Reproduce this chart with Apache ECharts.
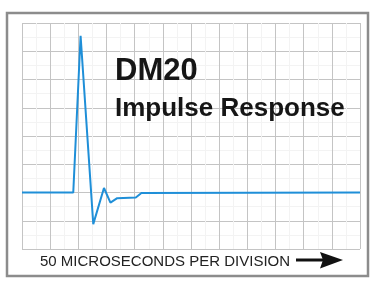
<!DOCTYPE html>
<html>
<head>
<meta charset="utf-8">
<script src="https://cdn.jsdelivr.net/npm/echarts@6/dist/echarts.min.js"></script>
<style>
html,body{margin:0;padding:0;background:#fff;}
#chart{width:372px;height:283px;}
</style>
</head>
<body>
<div id="chart"></div>
<script>
// impulse trace, x in divisions (50 us each), y in vertical divisions
var timeDiv = [0, 1.82, 2.08, 2.53, 2.91, 3.14, 3.38, 4.04, 4.24, 12];
var response = [2, 2, 7.55, 0.88, 2.16, 1.64, 1.8, 1.82, 1.98, 2];
var titleText = 'DM20';
var subText = 'Impulse Response';
var xLabel = '50 MICROSECONDS PER DIVISION';

var font = '"Liberation Sans", Arial, Helvetica, sans-serif';
var points = [];
for (var i = 0; i < timeDiv.length; i++) points.push([timeDiv[i], response[i]]);

var myChart = echarts.init(document.getElementById('chart'));
myChart.setOption({
    animation: false,
    backgroundColor: '#fff',
    grid: {left: 22, top: 23, right: 12, bottom: 34},
    xAxis: {
        type: 'value', min: 0, max: 12, interval: 1,
        axisLine: {show: false}, axisTick: {show: false}, axisLabel: {show: false},
        splitLine: {show: true, lineStyle: {color: '#c4c4c4', width: 1}},
        minorTick: {show: false, splitNumber: 2},
        minorSplitLine: {show: true, lineStyle: {color: '#f3f3f3', width: 1}}
    },
    yAxis: {
        type: 'value', min: 0, max: 8, interval: 1,
        axisLine: {show: false}, axisTick: {show: false}, axisLabel: {show: false},
        splitLine: {show: true, lineStyle: {color: '#c4c4c4', width: 1}},
        minorTick: {show: false, splitNumber: 2},
        minorSplitLine: {show: true, lineStyle: {color: '#f3f3f3', width: 1}}
    },
    title: [{
        text: titleText, left: 115, top: 56, padding: 0,
        textStyle: {fontFamily: font, fontSize: 31, fontWeight: 'bold', color: '#161616'}
    }, {
        text: subText, left: 115, top: 96, padding: 0,
        textStyle: {fontFamily: font, fontSize: 26, fontWeight: 'bold', color: '#161616'}
    }, {
        text: xLabel, left: 40, top: 254, padding: 0,
        textStyle: {fontFamily: font, fontSize: 15, fontWeight: 'normal', color: '#222'}
    }],
    graphic: [{
        type: 'rect', silent: true,
        shape: {x: 7, y: 13, width: 361, height: 263},
        style: {fill: null, stroke: '#8c8c8c', lineWidth: 2.5}
    }, {
        type: 'line', silent: true,
        shape: {x1: 296, y1: 260, x2: 324, y2: 260},
        style: {stroke: '#111', lineWidth: 3}
    }, {
        type: 'polygon', silent: true,
        shape: {points: [[320, 252], [343, 260], [320, 268.5], [323, 260]]},
        style: {fill: '#111'}
    }],
    series: [{
        type: 'line',
        data: points,
        showSymbol: false,
        lineStyle: {color: '#1f8fd8', width: 2},
        z: 3
    }]
});
</script>
</body>
</html>
